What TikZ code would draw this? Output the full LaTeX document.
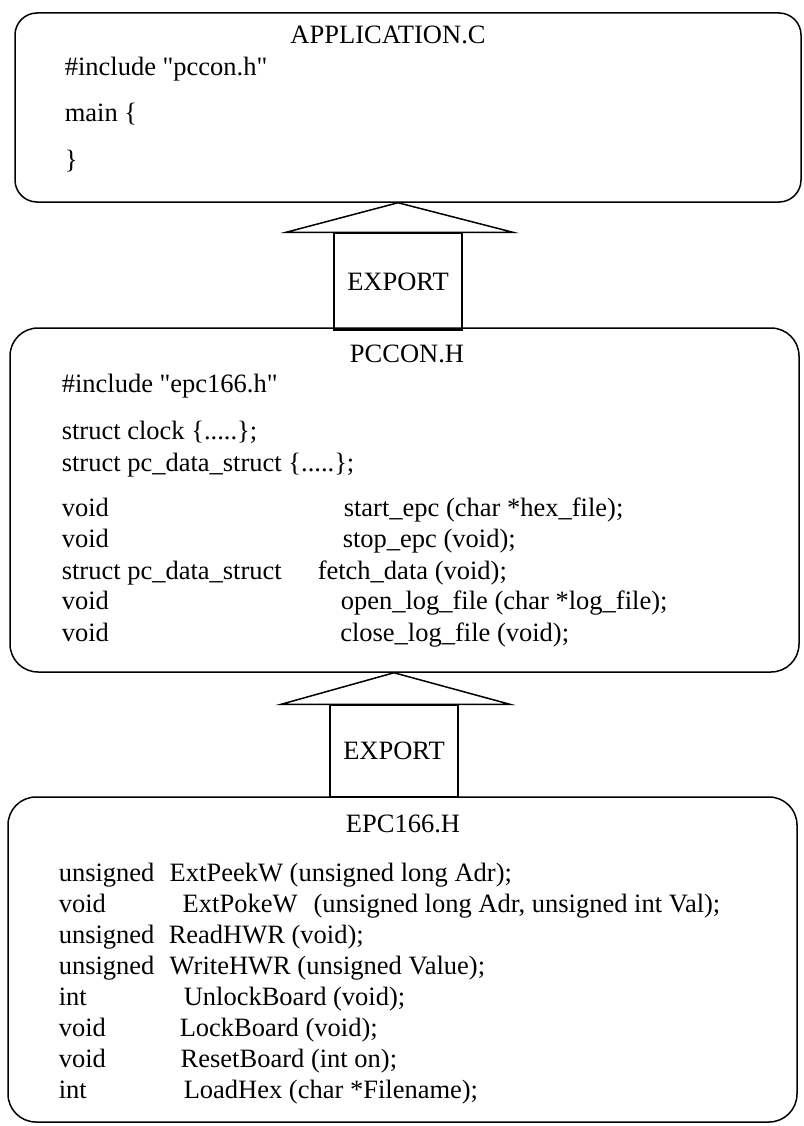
\documentclass[tikz,border=0pt]{standalone}
\usepackage{fontspec}
\setmainfont{Liberation Serif}[Ligatures=TeXOff]
\usetikzlibrary{calc}

\begin{document}
\begin{tikzpicture}[x=1pt, y=-1pt, line width=1.5pt]

\tikzstyle{filebox}=[rectangle, draw, rounded corners=28pt, inner sep=0pt]
\tikzstyle{export}=[rectangle, draw, inner sep=0pt, minimum width=128pt, font=\fontsize{26.5}{31}\selectfont]
\tikzstyle{title}=[inner sep=0pt, anchor=base, font=\fontsize{26.5}{31}\selectfont]
\tikzstyle{codeline}=[inner sep=0pt, anchor=base west, font=\fontsize{26.5}{31}\selectfont]

\useasboundingbox (0,0) rectangle (803,1126);

\node (app) [filebox, rounded corners=22pt, minimum width=786pt, minimum height=189pt] at (408,107.5) {};
\node (pccon) [filebox, minimum width=789pt, minimum height=344pt] at (404.5,500) {};
\node (epc) [filebox, minimum width=789pt, minimum height=325pt] at (402.5,959.5) {};

\node (exp1) [export, minimum height=97pt] at (398,281.5) {EXPORT};
\node (exp2) [export, minimum height=92pt] at (394,751) {EXPORT};

\draw [line join=miter] (exp1.north |- app.south) -- ($(exp1.north west)+(-47,0)$) -- ($(exp1.north east)+(50,0)$) -- cycle;
\draw [line join=miter] (exp2.north |- pccon.south) -- ($(exp2.north west)+(-48,0)$) -- ($(exp2.north east)+(51,0)$) -- cycle;

\node (appname) [title] at (388,44) {APPLICATION.C};
\node (a1) [codeline] at (64,76) {\#include "pccon.h"};
\node (a2) [codeline] at (64,122) {main \{};
\node (a3) [codeline] at (64,168) {\}};

\node (pcconname) [title] at (407,362) {PCCON.H};
\node (p1) [codeline] at (61,392) {\#include "epc166.h"};
\node (p2) [codeline] at (61,439) {struct clock \{.....\};};
\node (p3) [codeline] at (61,471) {struct pc\_data\_struct \{.....\};};
\node (p4) [codeline] at (61,516) {\makebox[282pt][l]{void}start\_epc (char *hex\_file);};
\node (p5) [codeline] at (61,547) {\makebox[281pt][l]{void}stop\_epc (void);};
\node (p6) [codeline] at (61,579) {\makebox[256pt][l]{struct pc\_data\_struct}fetch\_data (void);};
\node (p7) [codeline] at (61,609) {\makebox[279pt][l]{void}open\_log\_file (char *log\_file);};
\node (p8) [codeline] at (61,641) {\makebox[278.5pt][l]{void}close\_log\_file (void);};

\node (epcname) [title] at (403,832) {EPC166.H};
\node (e1) [codeline] at (58,881) {\makebox[111pt][l]{unsigned}ExtPeekW (unsigned long Adr);};
\node (e2) [codeline] at (58,912) {\makebox[124pt][l]{void}ExtPokeW\hspace{16pt}(unsigned long Adr, unsigned int Val);};
\node (e3) [codeline] at (58,943) {\makebox[110pt][l]{unsigned}ReadHWR (void);};
\node (e4) [codeline] at (58,974) {\makebox[111pt][l]{unsigned}WriteHWR (unsigned Value);};
\node (e5) [codeline] at (58,1005) {\makebox[125pt][l]{int}UnlockBoard (void);};
\node (e6) [codeline] at (58,1036) {\makebox[121pt][l]{void}LockBoard (void);};
\node (e7) [codeline] at (58,1067) {\makebox[122pt][l]{void}ResetBoard (int on);};
\node (e8) [codeline] at (58,1098) {\makebox[125pt][l]{int}LoadHex (char *Filename);};

\end{tikzpicture}
\end{document}
